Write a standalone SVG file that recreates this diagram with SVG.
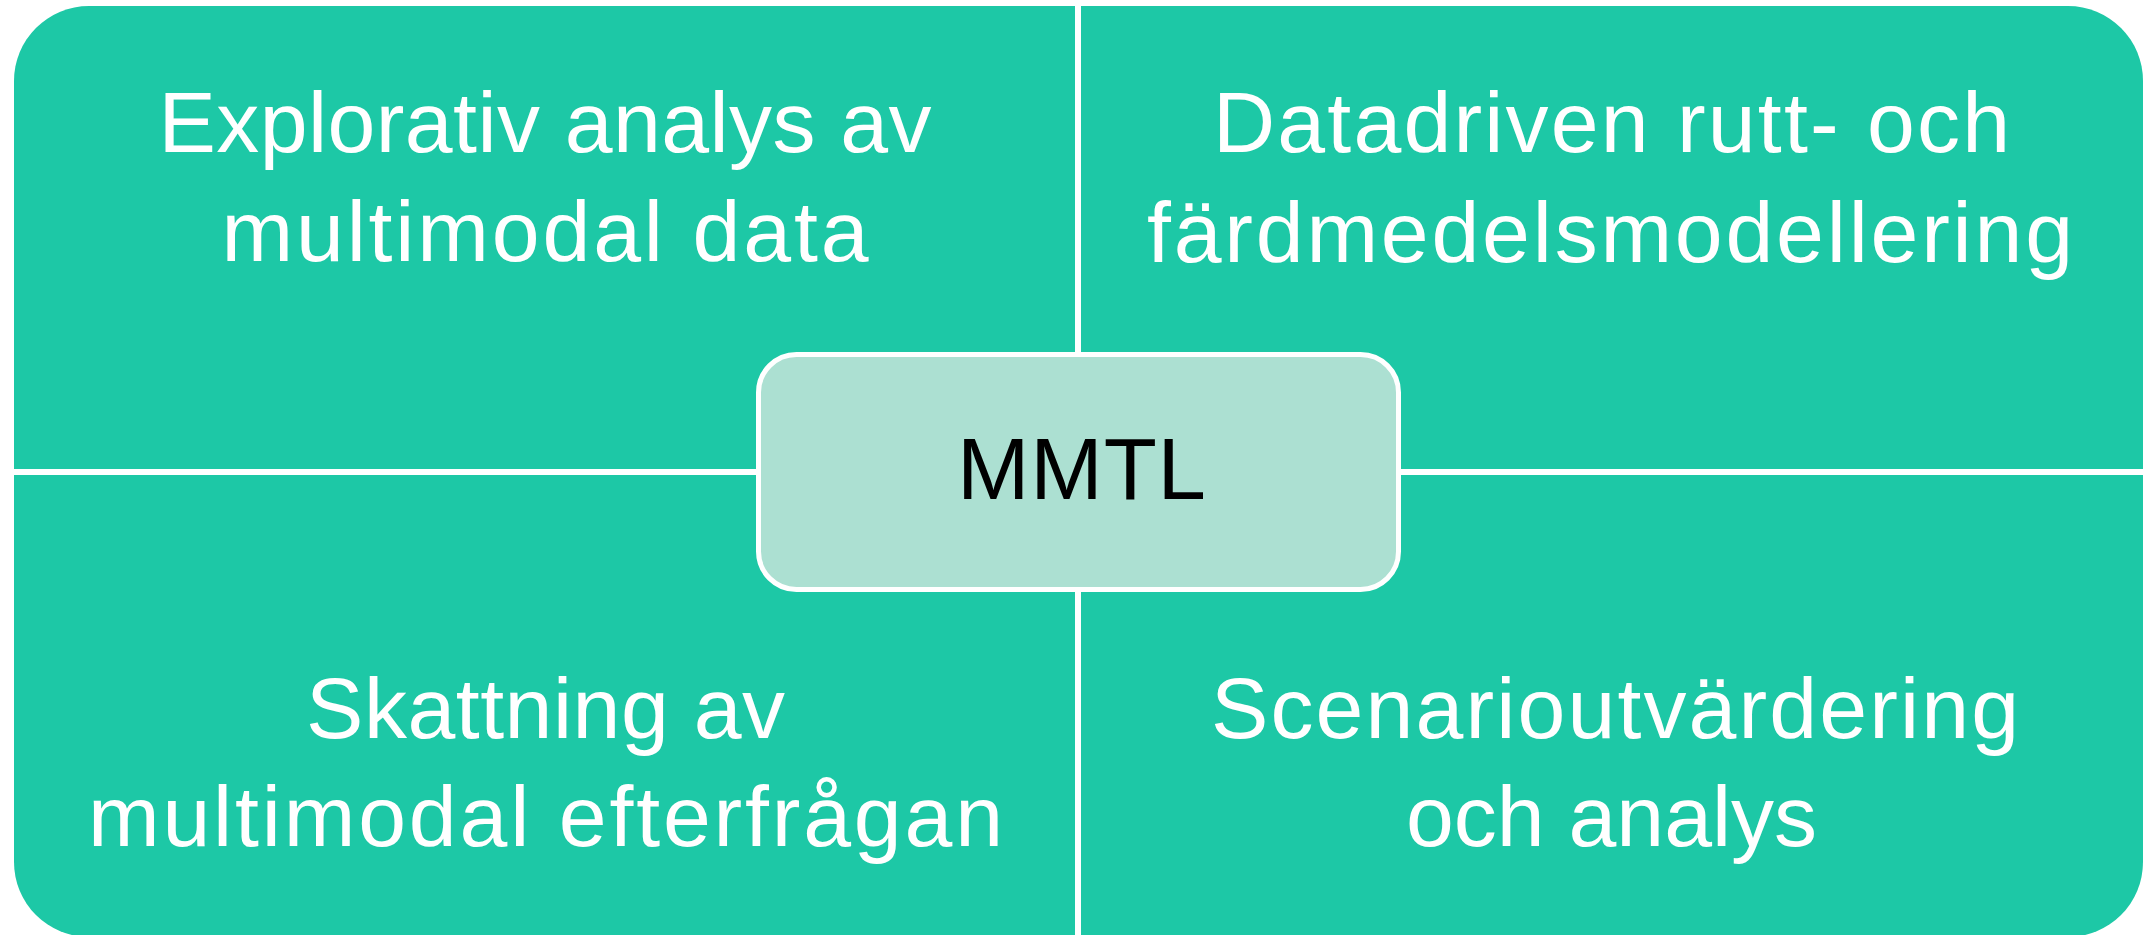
<svg xmlns="http://www.w3.org/2000/svg" width="2143" height="935" viewBox="0 0 2143 935">
  <style>
    .quad { fill: #1DC8A6; }
    .qtext { font-family: "Liberation Sans", Arial, sans-serif; font-size: 86px; fill: #FFFFFF; text-anchor: middle; }
    .center-box { fill: #ACE0D2; stroke: #FFFFFF; stroke-width: 5; }
    .ctext { font-family: "Liberation Sans", Arial, sans-serif; font-size: 87px; fill: #000000; text-anchor: middle; }
  </style>
  <rect x="0" y="0" width="2143" height="935" fill="#FFFFFF"/>

  <!-- four quadrants, each with one rounded outer corner -->
  <g id="quadrant-top-left">
    <path class="quad" d="M14,81 A75,75 0 0 1 89,6 H1075 V469 H14 Z"/>
    <text class="qtext" x="545" y="152" textLength="773">Explorativ analys av</text>
    <text class="qtext" x="545" y="261" textLength="647">multimodal data</text>
  </g>
  <g id="quadrant-top-right">
    <path class="quad" d="M1081,6 H2068 A75,75 0 0 1 2143,81 V469 H1081 Z"/>
    <text class="qtext" x="1611.5" y="152" textLength="797">Datadriven rutt- och</text>
    <text class="qtext" x="1610" y="262" textLength="926">färdmedelsmodellering</text>
  </g>
  <g id="quadrant-bottom-left">
    <path class="quad" d="M14,475 H1075 V937 H89 A75,75 0 0 1 14,862 Z"/>
    <text class="qtext" x="545.5" y="738" textLength="479">Skattning av</text>
    <text class="qtext" x="545.5" y="846" textLength="915">multimodal efterfrågan</text>
  </g>
  <g id="quadrant-bottom-right">
    <path class="quad" d="M1081,475 H2143 V862 A75,75 0 0 1 2068,937 H1081 Z"/>
    <text class="qtext" x="1615" y="738" textLength="808">Scenarioutvärdering</text>
    <text class="qtext" x="1611.5" y="846" textLength="411">och analys</text>
  </g>

  <!-- no connectors: the quadrants are split by the white gaps -->
  <g id="connectors"></g>

  <!-- central title node -->
  <g id="node-mmtl">
    <rect class="center-box" x="758.5" y="354.5" width="640" height="235" rx="38" ry="38"/>
    <text class="ctext" x="1081.5" y="499" textLength="249">MMTL</text>
  </g>
</svg>
